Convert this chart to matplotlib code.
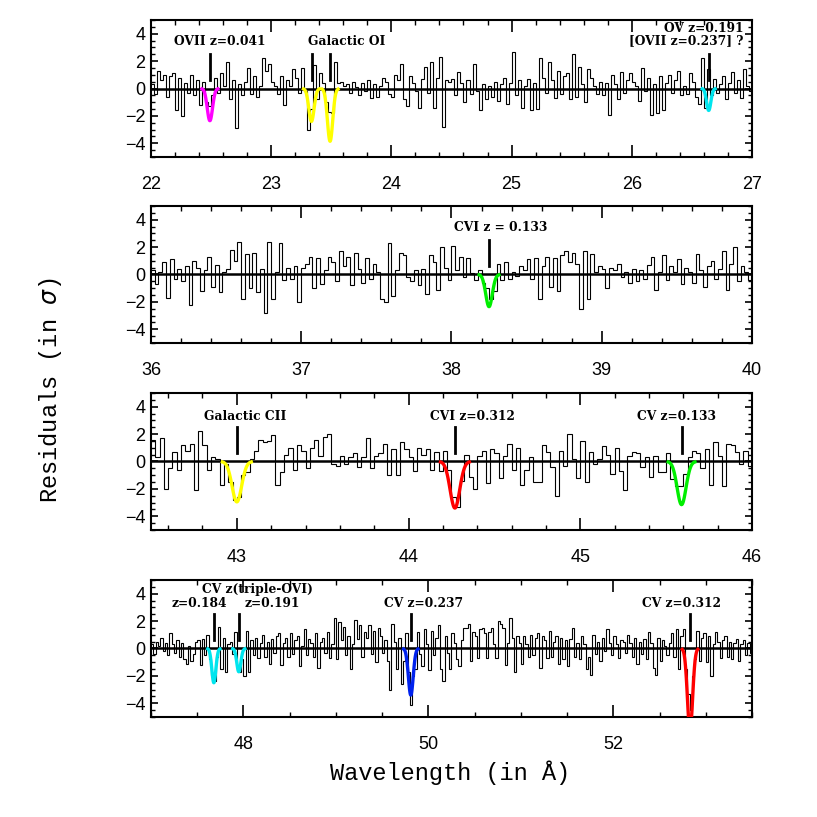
import matplotlib
matplotlib.use("Agg")
import matplotlib.pyplot as plt
import numpy as np
from matplotlib.ticker import MultipleLocator

# ---- residuals (in sigma), 0.025 A bins ----
bin_w = 0.025

p1_start = 22.0
p1_res = [
    0.3, -0.4, 1.3, 0.6, 1.0, -0.6, 0.9, 1.1, -1.6, 0.8,
    -2.0, 0.4, -0.3, 1.0, -0.5, 0.6, -1.2, 0.5, -1.0, -1.3,
    -0.5, 0.8, -0.3, 1.1, 0.2, 1.9, -0.8, 0.6, -2.9, 0.3,
    -0.5, 0.5, 1.5, -0.4, 0.9, -0.6, 0.2, 2.2, 1.3, 1.8,
    0.5, 0.2, -0.4, 0.9, -1.2, 0.6, 0.2, 1.4, 0.8, -0.3,
    1.5, -0.2, -3.0, -1.5, 1.7, -0.8, 1.1, 0.4, -1.0, -1.7,
    -1.8, 1.9, 0.4, 0.5, 0.2, 0.3, -0.3, 0.5, 0.1, -0.5,
    0.4, -0.2, 0.6, -0.7, 0.3, -0.6, 0.2, 0.8, 0.5, -0.4,
    -0.6, 1.0, 0.6, 1.8, -0.8, -1.3, 0.9, 0.4, -0.2, -1.4,
    0.7, 1.6, -0.3, 1.9, -1.4, 0.8, 2.3, -2.8, 0.6, 0.5,
    0.7, -0.5, 1.2, 0.4, -1.0, 0.6, -0.4, 1.8, -0.2, -1.6,
    0.3, -0.8, 0.2, -0.6, 0.5, -0.9, 0.3, 0.8, -1.1, 0.4,
    2.7, -0.5, 0.6, -1.4, 0.2, 0.7, -1.6, 0.4, -1.5, 2.2,
    0.8, -0.3, 1.9, 0.6, -0.7, 1.3, -0.4, 0.9, 1.1, -0.8,
    2.5, -0.6, 1.6, 0.3, -1.0, 1.4, 0.8, 0.2, -0.4, 0.5,
    -0.5, 0.4, -1.9, 1.0, 0.3, -0.8, 1.2, -0.3, 0.6, 1.1,
    0.5, 0.2, -0.9, 1.5, -0.2, 0.8, -1.9, 0.3, -1.8, 0.9,
    -1.6, 0.4, 1.0, -0.3, 0.6, 1.3, -0.5, 0.2, -0.4, 1.1,
    0.5, -0.6, -1.1, 2.2, -1.4, 1.4, -0.5, 0.7, -0.3, 0.3,
    0.9, -0.8, 0.4, 1.2, -0.3, 0.6, -0.7, 1.4, 0.2, -0.2,
]

p2_start = 36.0
p2_res = [
    0.3, -0.7, 0.2, 0.9, -1.7, 1.1, -0.3, 0.4, -0.5, 0.6,
    -2.2, 1.0, 0.5, -1.2, 0.3, 1.3, -0.9, 0.7, -1.3, 0.2,
    0.4, 1.8, 1.0, 2.4, -1.8, 1.5, -1.0, 1.6, -1.3, 0.4,
    -2.8, 2.4, -1.8, 0.2, 2.3, -0.4, 0.5, -0.3, 0.6, -2.0,
    0.5, 0.8, 1.3, -1.0, 1.2, -0.7, 0.3, 1.3, 0.9, -0.5,
    1.7, 0.6, 1.3, -0.8, 1.6, 0.4, -0.6, 1.2, -0.3, 0.8,
    0.2, -1.8, -2.0, 2.3, -1.6, 0.3, 1.6, 1.4, -0.2, -0.5,
    0.3, -0.8, 0.4, -1.4, 1.4, 0.9, -1.1, 2.0, 0.5, -0.4,
    2.1, 0.3, 1.3, -0.2, 1.2, 0.1, -0.4, 0.3, -0.6, -1.0,
    -1.8, -1.2, 0.8, -0.4, 0.9, -0.3, 0.2, -0.1, 0.6, 0.3,
    1.1, -0.3, 1.2, -1.8, 0.6, 1.3, -0.9, 1.2, -1.2, 1.4,
    1.7, 0.9, 1.6, 0.8, -2.5, 1.7, -1.8, 1.5, 0.2, 0.6,
    0.4, -1.0, 0.5, 0.3, 0.8, -0.2, 0.2, -0.6, 0.4, -0.5,
    0.3, -0.3, 0.7, 1.3, -1.1, 0.2, 1.4, -0.4, 0.6, 0.2,
    1.1, -0.7, 0.5, 0.2, -0.6, 1.5, 0.3, -0.9, 0.6, 1.0,
    -0.3, 0.4, 1.7, -1.1, 0.8, 2.0, -0.5, 0.6, 0.2, -0.4,
]

p3_start = 42.5
p3_res = [
    1.6, 0.3, 1.7, -2.0, -0.5, 0.7, -0.6, 1.2, 0.8, 1.3,
    -2.1, 2.2, 1.2, -0.6, 0.3, 0.2, -1.7, -0.2, -1.5, -2.8,
    -2.6, -1.0, -0.8, 0.2, 0.8, 1.6, 1.4, 1.5, 1.9, -1.7,
    -0.8, 0.5, 1.0, -0.6, 1.2, 0.8, -0.5, 1.0, 1.6, 0.4,
    1.8, 2.0, -0.2, -0.3, 0.4, -0.2, 0.3, 0.6, -0.4, 0.3,
    1.7, -0.5, 0.4, 0.6, 1.3, -1.0, 0.9, -1.0, 1.4, 0.9,
    0.3, -0.7, 1.0, 0.5, 0.9, -0.6, 0.7, -0.7, 0.8, -0.6,
    -2.6, -3.3, -1.4, 0.5, -1.1, -2.0, 0.4, 0.8, -1.6, 0.9,
    0.6, -1.2, 0.4, 1.3, -0.6, 1.0, -1.7, -0.6, 0.3, -1.5,
    -1.5, 1.2, 0.7, -0.4, -2.5, 0.8, -0.3, 2.0, 0.2, -1.2,
    1.5, -1.5, 0.7, -0.2, 0.2, 1.1, 0.5, -0.9, 1.0, -0.7,
    -2.1, 0.4, 0.7, 0.6, -0.4, 0.3, -1.1, 0.4, -0.8, -0.8,
    0.6, -1.3, -1.8, -1.8, -0.9, 0.3, 0.8, 0.6, -0.5, 0.9,
    -1.7, 1.4, 0.4, -1.8, 1.3, 1.2, 0.7, -0.2, 0.8, -0.3,
]

p4_start = 47.0
p4_res = [
    0.3, -0.4, 0.5, 0.2, 0.8, -0.2, 0.4, -0.5, 1.1, 0.3,
    -0.3, 0.6, -0.6, 0.4, -0.8, -1.1, 0.2, -0.9, -0.4, 0.5,
    0.6, -1.2, 0.7, -0.5, 1.0, -0.8, -1.9, -2.4, -0.6, 1.6,
    -1.5, 0.8, -1.7, 0.3, 0.5, -0.4, 1.2, -1.6, -1.7, -0.8,
    -2.0, 1.3, -1.7, 0.6, -0.5, 0.8, -0.7, 0.4, 1.0, -0.6,
    0.5, -1.1, 0.7, -0.3, 0.9, 1.1, -1.2, 0.4, 0.8, -0.6,
    1.1, -0.4, 0.6, 0.9, -1.3, 0.2, 1.4, -0.5, 0.7, 0.4,
    -0.6, 1.1, -1.4, 0.5, 0.8, -0.3, 1.2, -0.7, 0.3, 2.2,
    -0.8, 1.9, 0.6, 1.6, -0.5, 0.9, -1.5, 0.3, 2.1, 0.7,
    1.7, -0.6, 1.2, 0.8, 1.7, -0.4, 1.3, -1.0, 1.5, 0.9,
    -0.3, 0.6, -0.9, -3.0, 1.8, 0.5, -1.5, 0.8, -2.6, -0.9,
    1.1, -1.7, -4.1, -2.0, -1.5, 1.2, -0.4, -1.3, 1.4, 0.3,
    -1.6, 1.3, -0.5, 0.8, 1.7, -1.5, -2.4, 0.9, -0.3, -1.5,
    1.1, 0.4, -0.8, -1.3, 0.6, 1.5, 1.5, 1.8, -0.9, 1.2,
    0.9, -0.7, 1.4, 1.5, 1.1, -0.7, 1.2, 1.5, 0.3, -0.7,
    2.0, 1.8, 1.5, -1.2, 0.4, 2.2, 0.8, -1.7, 0.9, 0.4,
    -1.1, 0.9, 0.3, -0.6, 1.0, -0.5, 0.8, 1.1, -1.4, 0.9,
    0.6, -0.7, 1.3, -0.6, 0.5, 0.9, -1.1, 0.8, -0.8, 0.6,
    -1.3, 0.7, 1.5, -0.6, 0.4, -0.8, 0.9, 0.3, -1.5, -0.6,
    -1.9, 1.0, -0.4, 0.5, -0.9, 0.8, -0.2, 1.4, 0.4, -0.5,
    0.9, 0.3, -0.7, 0.6, 0.5, -0.3, 1.0, 0.4, -0.6, 0.8,
    -1.1, 0.5, -0.4, 0.7, -0.8, 1.2, 0.4, -1.4, -1.9, 0.8,
    -0.9, 0.6, 0.2, -0.5, 0.4, 1.1, -0.6, 1.4, -1.5, 0.9,
    1.4, -1.5, -3.3, -4.5, -2.0, -0.8, 1.3, -0.9, 0.8, 1.1,
    -1.0, 0.9, -2.0, 0.3, 1.2, 0.5, -0.7, 0.6, 0.9, -0.6,
    0.5, -0.8, 0.4, 0.7, -0.9, 0.3, 0.6, -0.5, 0.4, -0.3,
]

# ---- absorption line models: centre, depth, sigma, colour ----
p1_lines = [(22.49, 2.35, 0.022, "#ff00ff"), (23.335, 2.4, 0.022, "#ffff00"),
            (23.49, 3.85, 0.022, "#ffff00"), (26.64, 1.6, 0.018, "#00e5ee")]
p2_lines = [(38.25, 2.35, 0.022, "#00ee00")]
p3_lines = [(43.0, 2.95, 0.028, "#ffff00"), (44.27, 3.4, 0.028, "#ff0000"),
            (45.59, 3.15, 0.026, "#00ee00")]
p4_lines = [(47.68, 2.5, 0.022, "#00e5ee"), (47.95, 1.7, 0.022, "#00e5ee"),
            (49.81, 3.4, 0.026, "#0022ee"), (52.83, 6.0, 0.028, "#ff0000")]

# ---- marker ticks (x) and labels (x, y, text, ha) ----
p1_marks = [22.49, 23.34, 23.49, 26.64]
p2_marks = [38.25]
p3_marks = [43.0, 44.27, 45.59]
p4_marks = [47.68, 47.95, 49.81, 52.83]

p1_text = [(22.575, 3.4, "OVII z=0.041", "center"), (23.63, 3.4, "Galactic OI", "center"),
           (26.93, 3.95, "OV z=0.191\n[OVII z=0.237] ?", "right")]
p2_text = [(38.33, 3.4, "CVI z = 0.133", "center")]
p3_text = [(43.05, 3.25, "Galactic CII", "center"), (44.37, 3.25, "CVI z=0.312", "center"),
           (45.56, 3.25, "CV z=0.133", "center")]
p4_text = [(48.15, 4.3, "CV z(triple-OVI)", "center"), (47.52, 3.3, "z=0.184", "center"),
           (48.31, 3.3, "z=0.191", "center"), (49.95, 3.3, "CV z=0.237", "center"),
           (52.74, 3.3, "CV z=0.312", "center")]

panels = [
    (p1_start, p1_res, (22, 27), 1, 0.2, p1_lines, p1_marks, p1_text, None),
    (p2_start, p2_res, (36, 40), 1, 0.2, p2_lines, p2_marks, p2_text, None),
    (p3_start, p3_res, (42.5, 46), 1, 0.2, p3_lines, p3_marks, p3_text, None),
    (p4_start, p4_res, (47, 53.5), 2, 0.5, p4_lines, p4_marks, p4_text, "#d04020"),
]
bottoms = [0.8078, 0.5802, 0.3513, 0.1224]

fig = plt.figure(figsize=(8.17, 8.17), dpi=100)
ann_font = dict(family="DejaVu Serif", fontweight="bold", fontsize=8.8)

for (start, res, xlim, major, minor, lines, marks, texts, zcol), b in zip(panels, bottoms):
    ax = fig.add_axes([0.1848, b, 0.7356, 0.1677])
    res = np.array(res)
    edges = start + bin_w * np.arange(len(res) + 1)
    ax.stairs(res, edges, color="k", lw=0.8, baseline=None)
    if zcol:
        ax.axhline(0, color=zcol, lw=0.8, zorder=1)
    ax.axhline(0, color="k", lw=1.8, zorder=3)
    for c, d, s, col in lines:
        xx = np.linspace(c - 3 * s, c + 3 * s, 80)
        ax.plot(xx, -d * np.exp(-0.5 * ((xx - c) / s) ** 2), color=col, lw=2.4, zorder=4)
    for m in marks:
        ax.plot([m, m], [0.65, 2.5], color="k", lw=2.0, zorder=5)
    for tx, ty, s, ha in texts:
        ax.text(tx, ty, s, ha=ha, va="center", multialignment="right",
                linespacing=0.95, **ann_font)
    ax.set_xlim(*xlim)
    ax.set_ylim(-5, 5)
    ax.xaxis.set_major_locator(MultipleLocator(major))
    ax.xaxis.set_minor_locator(MultipleLocator(minor))
    ax.yaxis.set_major_locator(MultipleLocator(2))
    ax.yaxis.set_minor_locator(MultipleLocator(0.5))
    ax.tick_params(axis="x", which="major", direction="in", top=True, length=8.5, width=1.2,
                   pad=14, labelsize=13)
    ax.tick_params(axis="x", which="minor", direction="in", top=True, length=3.8, width=1.0)
    ax.tick_params(axis="y", which="major", direction="in", right=True, length=5, width=1.2,
                   pad=4, labelsize=13)
    ax.tick_params(axis="y", which="minor", direction="in", right=True, length=3, width=1.0)
    for lab in ax.get_xticklabels() + ax.get_yticklabels():
        lab.set_family("Liberation Sans")
    for sp in ax.spines.values():
        sp.set_linewidth(1.5)

fig.text(0.062, 0.522, r"Residuals (in $\sigma$)", rotation=90, ha="center", va="center",
         family="Liberation Mono", fontsize=17)
fig.text(0.551, 0.054, "Wavelength (in Å)", ha="center", va="center",
         family="Liberation Mono", fontsize=17)

fig.savefig("out.png", dpi=100)
